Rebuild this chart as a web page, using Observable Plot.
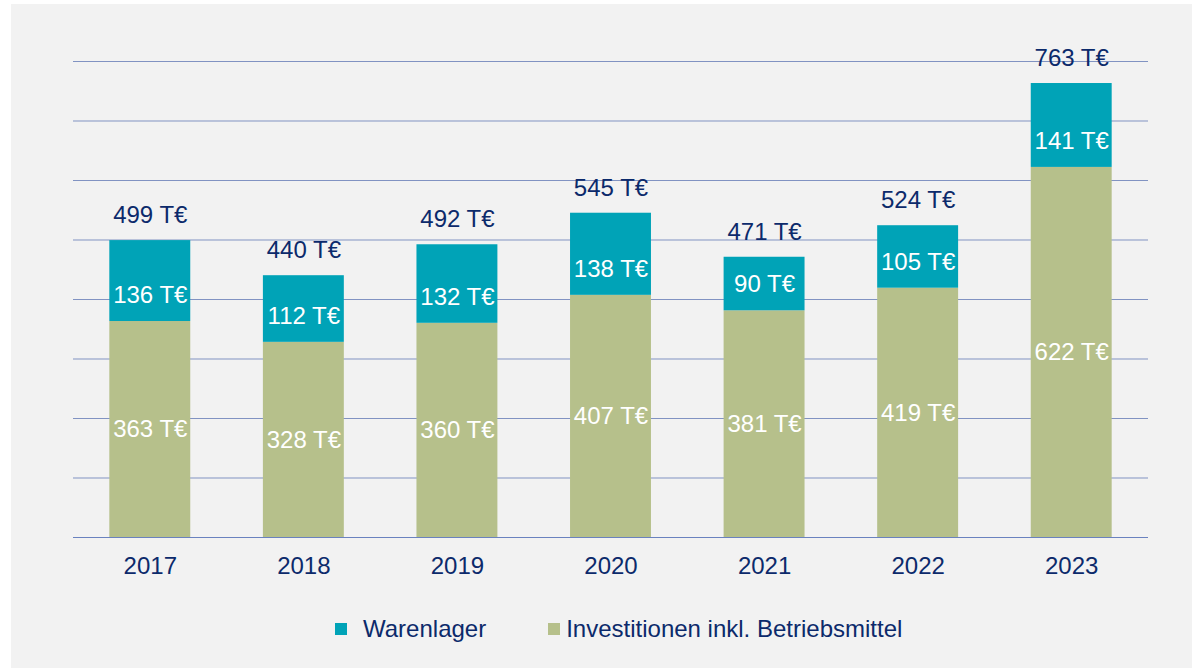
<!DOCTYPE html>
<html>
<head>
<meta charset="utf-8">
<script src="https://cdn.jsdelivr.net/npm/d3@7"></script>
<script src="https://cdn.jsdelivr.net/npm/@observablehq/plot@0.6"></script>
<style>
  html, body { margin: 0; padding: 0; background: #ffffff; }
  #frame { position: absolute; left: 11px; top: 4px; width: 1181px; height: 664px; background: #f2f2f2; font-family: "Liberation Sans", Arial, sans-serif; color: #0c2a6b; }
  #chart { position: absolute; left: 0; top: 0; }
  #legend { position: absolute; left: 324px; top: 607px; height: 36px; display: flex; align-items: center; font-size: 24px; white-space: nowrap; }
  .sw { display: inline-block; width: 12px; height: 12px; }
</style>
</head>
<body>
<div id="frame">
  <div id="chart"></div>
  <div id="legend"></div>
</div>
<script>
const years = ["2017", "2018", "2019", "2020", "2021", "2022", "2023"];
const investitionen = [363, 328, 360, 407, 381, 419, 622];
const warenlager = [136, 112, 132, 138, 90, 105, 141];
const totals = [499, 440, 492, 545, 471, 524, 763];
const yTicks = [100, 200, 300, 400, 500, 600, 700, 800];

const INV = "Investitionen inkl. Betriebsmittel";
const WAR = "Warenlager";
const seriesNames = [INV, WAR];
const seriesColors = ["#b6c08b", "#00a3b7"];
const navy = "#0c2a6b";
const font = "'Liberation Sans', Arial, sans-serif";

const rows = [];
years.forEach((y, i) => rows.push({year: y, series: INV, value: investitionen[i]}));
years.forEach((y, i) => rows.push({year: y, series: WAR, value: warenlager[i]}));
const totalRows = years.map((y, i) => ({year: y, total: totals[i]}));
const fmt = v => `${v} T€`;

const plot = Plot.plot({
  width: 1181,
  height: 600,
  marginLeft: 62,
  marginRight: 44,
  marginTop: 57,
  marginBottom: 67,
  style: {background: "transparent", fontFamily: font, color: navy, overflow: "visible"},
  x: {domain: years, paddingInner: 0.473, paddingOuter: 0.2365, round: false, label: null},
  y: {domain: [0, 800], axis: null},
  color: {domain: seriesNames, range: seriesColors},
  marks: [
    Plot.ruleY(yTicks, {stroke: "#8193c2", strokeWidth: 1}),
    Plot.barY(rows, Plot.stackY({x: "year", y: "value", fill: "series"})),
    Plot.ruleY([0], {stroke: "#6a82bf", strokeWidth: 1}),
    Plot.text(rows, Plot.stackY({
      x: "year", y: "value",
      text: d => d.series === INV ? fmt(d.value) : null,
      fill: "white", fontSize: 24, lineAnchor: "middle"
    })),
    Plot.text(rows, Plot.stackY1({
      x: "year", y: "value",
      text: d => d.series === WAR ? fmt(d.value) : null,
      fill: "white", fontSize: 24, lineAnchor: "middle", dy: -26
    })),
    Plot.text(totalRows, {
      x: "year", y: "total", text: d => fmt(d.total),
      fill: navy, fontSize: 24, lineAnchor: "middle", dy: -25
    }),
    Plot.axisX({tickSize: 0, tickPadding: 19, fontSize: 24, label: null, fill: navy})
  ]
});
document.getElementById("chart").appendChild(plot);

const legend = document.getElementById("legend");
const legendItems = [
  {name: WAR, color: seriesColors[1], gapAfterSwatch: 16, gapAfter: 62},
  {name: INV, color: seriesColors[0], gapAfterSwatch: 6, gapAfter: 0}
];
legendItems.forEach(it => {
  const sw = document.createElement("span");
  sw.className = "sw";
  sw.style.background = it.color;
  sw.style.marginRight = it.gapAfterSwatch + "px";
  const tx = document.createElement("span");
  tx.textContent = it.name;
  tx.style.marginRight = it.gapAfter + "px";
  legend.appendChild(sw);
  legend.appendChild(tx);
});
</script>
</body>
</html>
